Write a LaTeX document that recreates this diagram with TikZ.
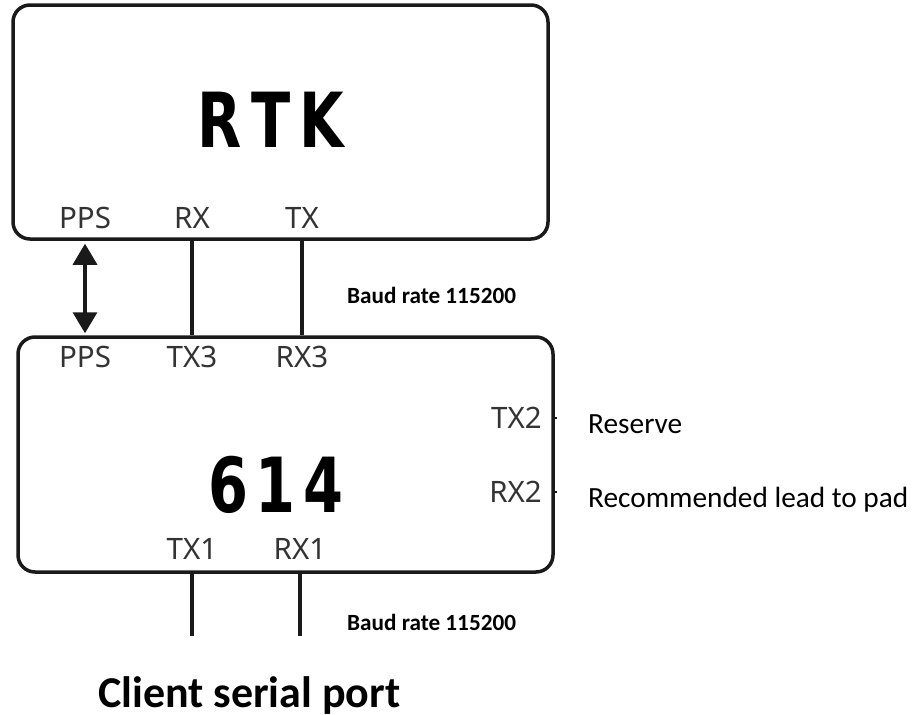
\documentclass[tikz,border=0pt]{standalone}
\usepackage{fontspec}
\usetikzlibrary{arrows.meta}
\setmainfont{Carlito}
\newfontfamily\pinfont{Noto Sans}
\newfontfamily\heavyfont{DejaVu Sans Condensed}[BoldFont={* Bold}]
\definecolor{edge}{HTML}{1A1A1A}
\definecolor{pin}{HTML}{333333}
\tikzset{
  board/.style={draw=edge, line width=3.5pt, rounded corners=17pt, inner sep=0pt},
  pinlabel/.style={text=pin, font=\pinfont\fontsize{29.5}{29.5}\selectfont, inner sep=0pt, anchor=base},
  title/.style={font=\heavyfont\bfseries\fontsize{76}{76}\selectfont, inner sep=0pt, anchor=base},
  wire/.style={draw=edge, line width=3.5pt},
  baud/.style={font=\bfseries\fontsize{23.2}{23.2}\selectfont, inner sep=0pt, anchor=base west},
  note/.style={font=\fontsize{29.3}{29.3}\selectfont, inner sep=0pt, anchor=base west},
}
\begin{document}
\begin{tikzpicture}[x=1pt, y=-1pt]
  \useasboundingbox (0,0) rectangle (916,715);

  % RTK receiver board
  \node[board, minimum width=535pt, minimum height=234pt] (rtk) at (280.5,122) {};
  \node[title] (rtkname) at (271,147) {\scalebox{0.84}[1]{R\hspace{11pt}T\hspace{11pt}K}};
  \node[pinlabel] (rpps) at (85,228) {PPS};
  \node[pinlabel] (rrx) at (192,228) {RX};
  \node[pinlabel] (rtx) at (302,228) {TX};

  % 614 board
  \node[board, minimum width=535pt, minimum height=235pt] (mcu) at (285.5,454.5) {};
  \node[title] (mcuname) at (276,512) {\scalebox{0.84}[1]{6\hspace{9pt}1\hspace{9pt}4}};
  \node[pinlabel] (mpps) at (85,367) {PPS};
  \node[pinlabel] (mtx3) at (192,367) {TX3};
  \node[pinlabel] (mrx3) at (302,367) {RX3};
  \node[pinlabel, anchor=base east] (mtx2) at (542,428) {TX2};
  \node[pinlabel, anchor=base east] (mrx2) at (542,502) {RX2};
  \node[pinlabel] (mtx1) at (192,559) {TX1};
  \node[pinlabel] (mrx1) at (300,559) {RX1};

  % pin marks on the right edge
  \coordinate (tx2pin) at (557,418);
  \coordinate (rx2pin) at (557,492);
  \draw[edge, line width=1.5pt] (mcu.east |- tx2pin) -- (tx2pin);
  \draw[edge, line width=1.5pt] (mcu.east |- rx2pin) -- (rx2pin);

  % links between the boards
  \draw[wire, {Triangle[width=24pt,length=21pt]}-{Triangle[width=24pt,length=21pt]}]
    ([yshift=-3pt]rtk.south -| rpps) -- ([yshift=2pt]mcu.north -| mpps);
  \draw[wire] (rtk.south -| rrx) -- (mcu.north -| mtx3);
  \draw[wire] (rtk.south -| rtx) -- (mcu.north -| mrx3);

  % client side wires
  \coordinate (tx1end) at (192,636);
  \coordinate (rx1end) at (300,636);
  \draw[wire] (mcu.south -| mtx1) -- (tx1end);
  \draw[wire] (mcu.south -| mrx1) -- (rx1end);

  % annotations
  \node[baud] (baud1) at (347,303) {Baud rate 115200};
  \node[baud] (baud2) at (347,630) {Baud rate 115200};
  \node[note] (reserve) at (588,433) {Reserve};
  \node[note] (lead) at (588,507) {Recommended lead to pad};
  \node[font=\bfseries\fontsize{44}{44}\selectfont, inner sep=0pt, anchor=base west] (client) at (98,707) {Client serial port};
\end{tikzpicture}
\end{document}
